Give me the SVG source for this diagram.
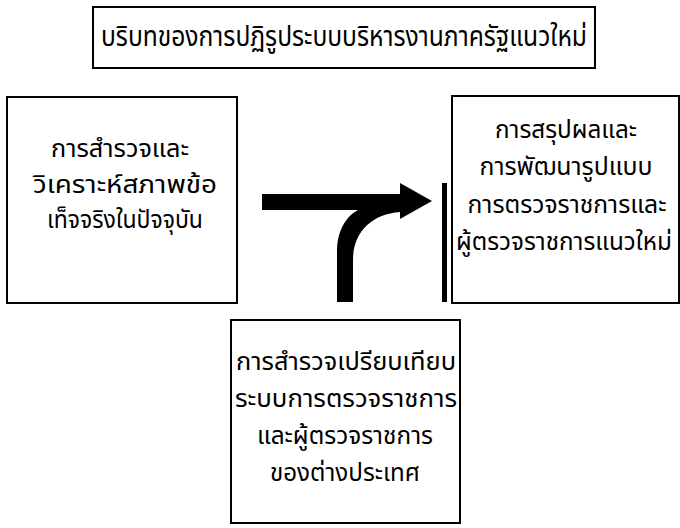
<svg xmlns="http://www.w3.org/2000/svg" width="680" height="528" viewBox="0 0 680 528">
<style>
.box{fill:#fff;stroke:#000;stroke-width:2}
.t{font-family:"Noto Sans Thai","Noto Sans","DejaVu Sans","Liberation Sans",sans-serif;font-size:25px;fill:#000;text-anchor:middle}
.title{font-size:28px}
</style>
<rect width="680" height="528" fill="#fff"/>
<g id="title">
<rect class="box" x="93" y="7" width="502" height="61"/>
<text class="t title" x="344" y="46" textLength="486" lengthAdjust="spacingAndGlyphs">บริบทของการปฏิรูประบบบริหารงานภาครัฐแนวใหม่</text>
</g>
<g id="survey">
<rect class="box" x="7" y="97" width="230" height="206"/>
<text class="t" x="120" y="157" textLength="138" lengthAdjust="spacingAndGlyphs">การสำรวจและ</text>
<text class="t" x="125" y="193" textLength="184" lengthAdjust="spacingAndGlyphs">วิเคราะห์สภาพข้อ</text>
<text class="t" x="125" y="228" textLength="156" lengthAdjust="spacingAndGlyphs">เท็จจริงในปัจจุบัน</text>
</g>
<g id="conclusion">
<rect class="box" x="452" y="96" width="227" height="207"/>
<text class="t" x="566" y="138" textLength="142" lengthAdjust="spacingAndGlyphs">การสรุปผลและ</text>
<text class="t" x="566" y="175" textLength="173" lengthAdjust="spacingAndGlyphs">การพัฒนารูปแบบ</text>
<text class="t" x="567" y="213" textLength="199" lengthAdjust="spacingAndGlyphs">การตรวจราชการและ</text>
<text class="t" x="564" y="250" textLength="216" lengthAdjust="spacingAndGlyphs">ผู้ตรวจราชการแนวใหม่</text>
</g>
<g id="comparison">
<rect class="box" x="231" y="320" width="229" height="203"/>
<text class="t" x="346" y="370" textLength="220" lengthAdjust="spacingAndGlyphs">การสำรวจเปรียบเทียบ</text>
<text class="t" x="346" y="407" textLength="222" lengthAdjust="spacingAndGlyphs">ระบบการตรวจราชการ</text>
<text class="t" x="345" y="444" textLength="176" lengthAdjust="spacingAndGlyphs">และผู้ตรวจราชการ</text>
<text class="t" x="345" y="481" textLength="150" lengthAdjust="spacingAndGlyphs">ของต่างประเทศ</text>
</g>
<g id="connectors" fill="#000">
<rect x="262" y="194" width="139" height="16"/>
<polygon points="400,183 432,201 400,219"/>
<path d="M337,302 L337,252 C337,232 345,216 360,209 L400,209 L400,212 C372,214 353,232 353,260 L353,302 Z"/>
<rect x="442" y="183" width="5" height="119"/>
</g>
</svg>
